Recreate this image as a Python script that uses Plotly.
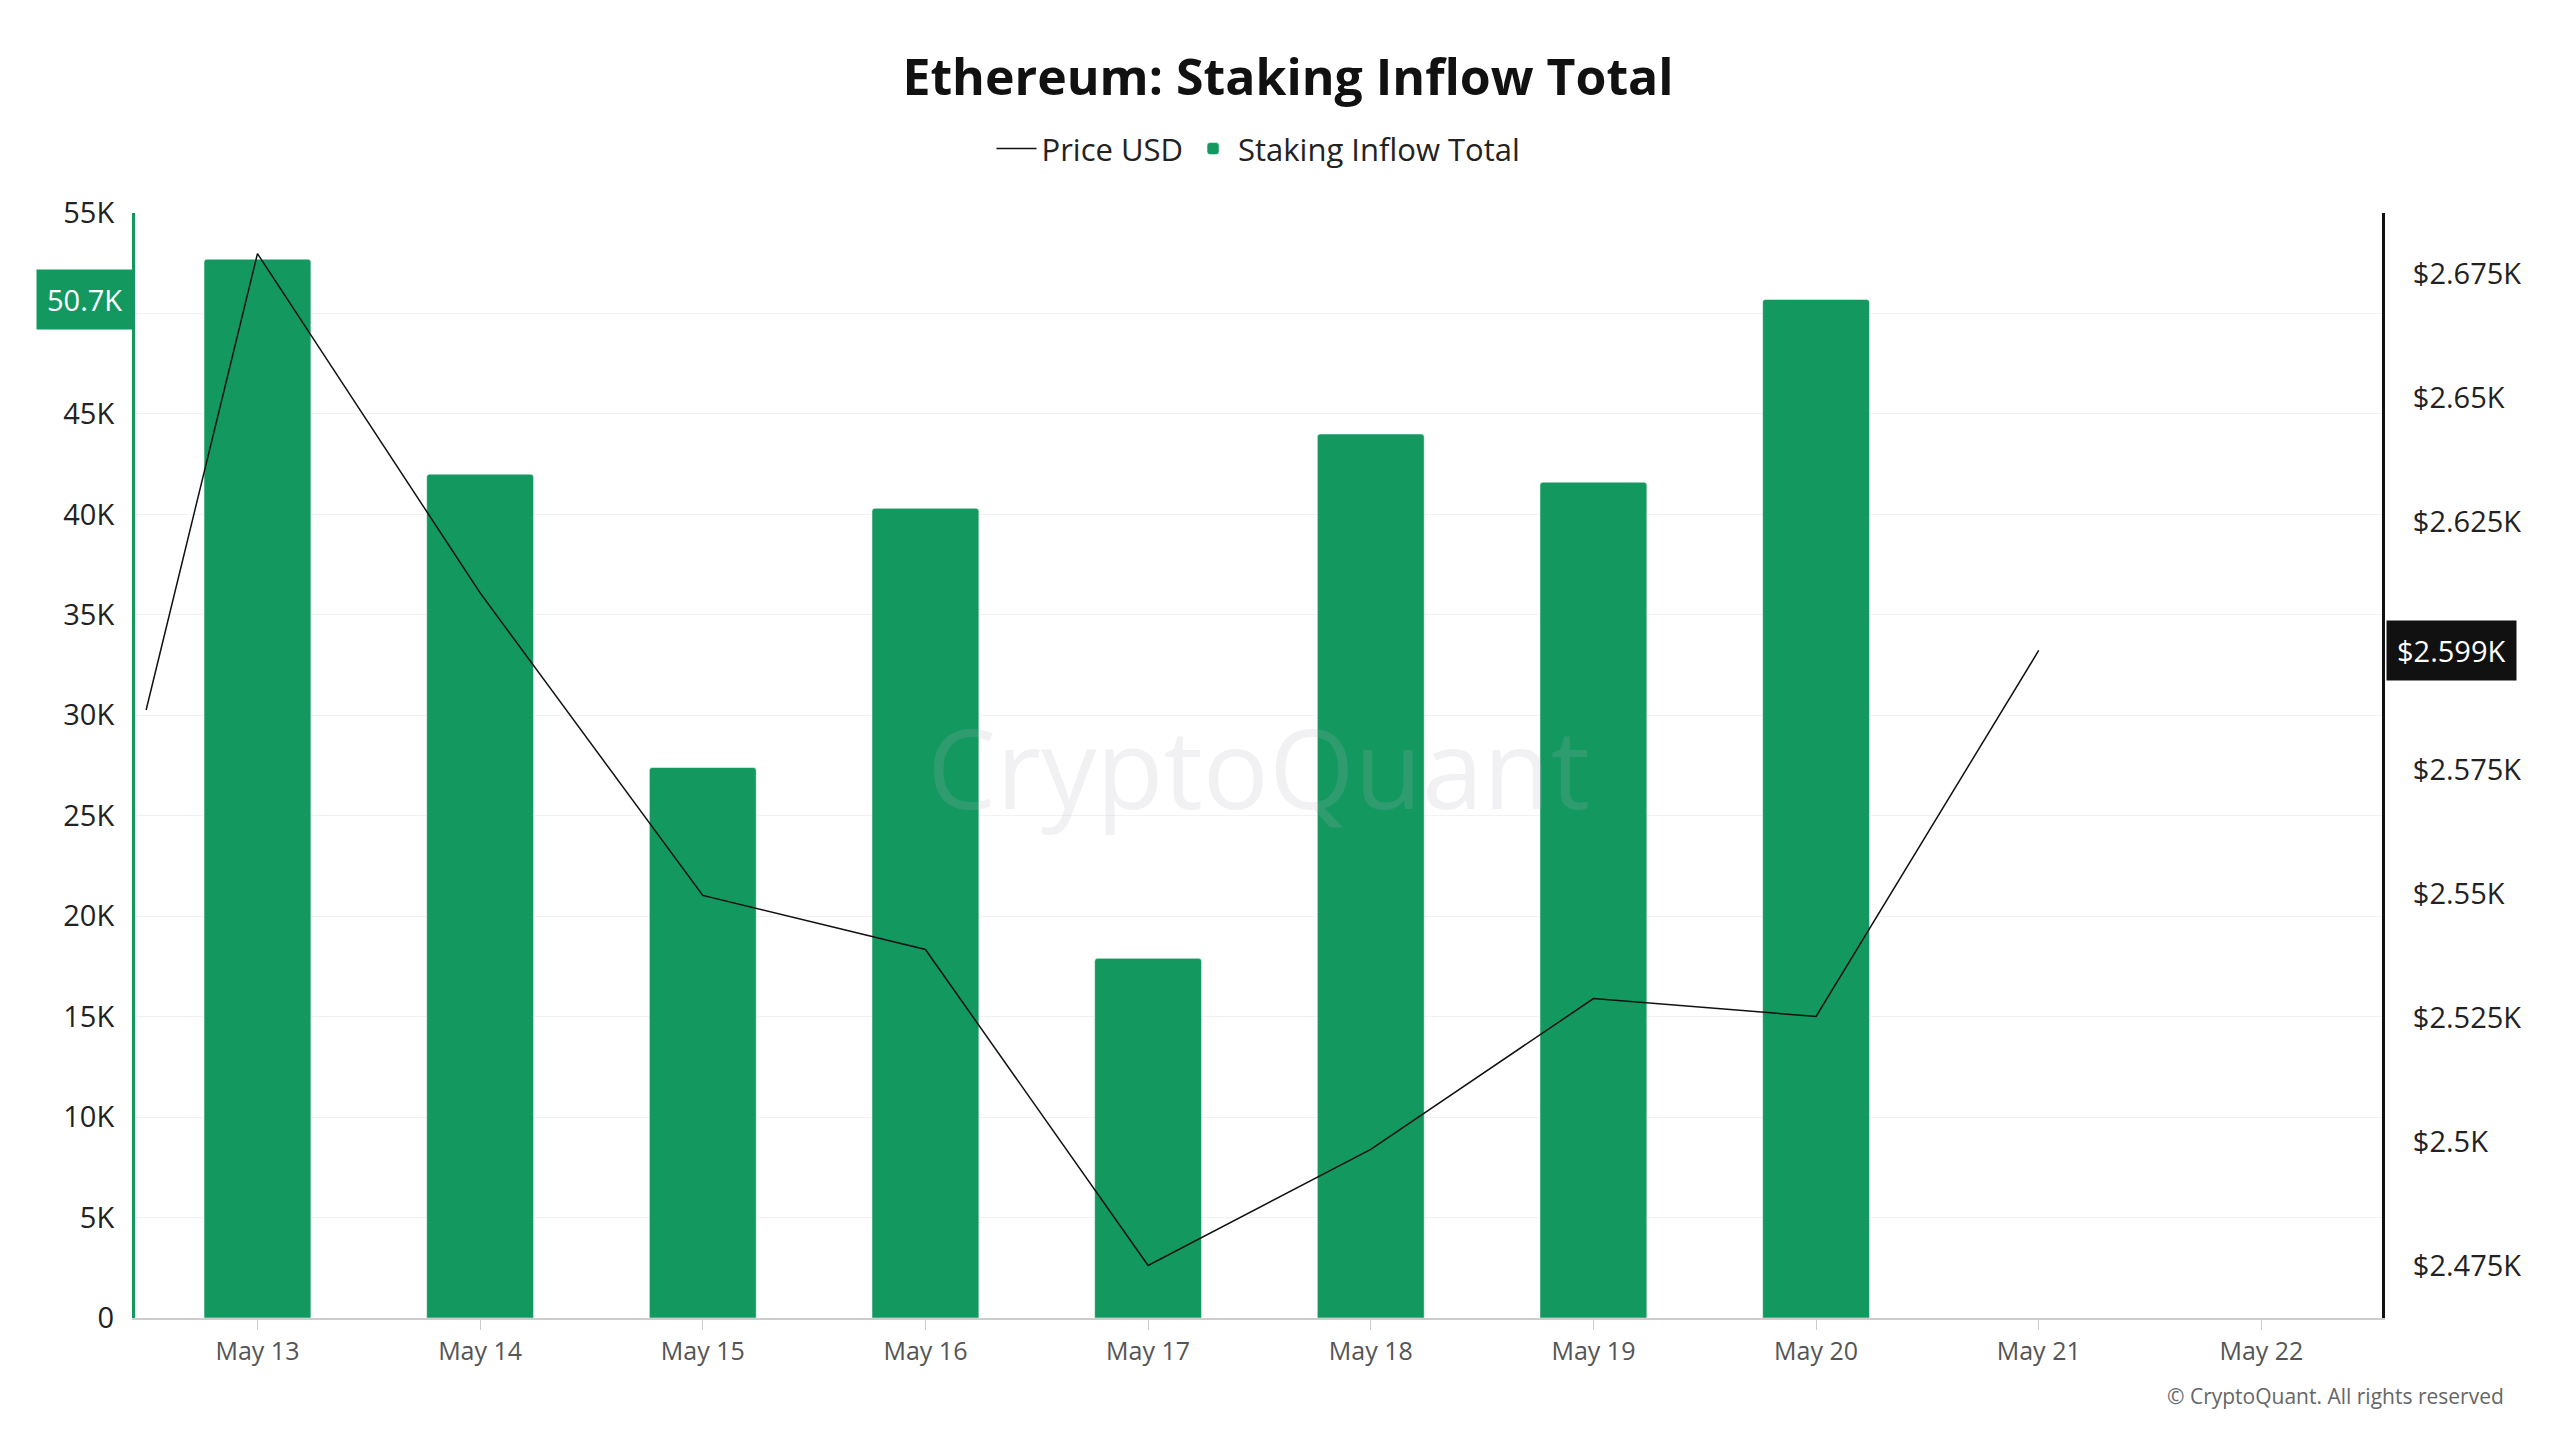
import plotly.graph_objects as go

bar_dates = ["2025-05-13", "2025-05-14", "2025-05-15", "2025-05-16",
             "2025-05-17", "2025-05-18", "2025-05-19", "2025-05-20"]
inflow = [52700, 42000, 27400, 40300, 17900, 44000, 41600, 50700]

price_dates = ["2025-05-12 12:00", "2025-05-13", "2025-05-14", "2025-05-15",
               "2025-05-16", "2025-05-17", "2025-05-18", "2025-05-19",
               "2025-05-20", "2025-05-21"]
price = [2587, 2679, 2610.6, 2549.6, 2538.7, 2475, 2498.4, 2528.8, 2525.2, 2599]

tick_vals = ["2025-05-%02d" % d for d in range(13, 23)]
tick_text = ["May %d" % d for d in range(13, 23)]

GREEN = "#13985f"
F = "Open Sans"

fig = go.Figure()
fig.add_trace(go.Bar(x=bar_dates, y=inflow, name="Staking Inflow Total",
                     marker=dict(color=GREEN, cornerradius=3), width=86400000 * 0.48))
fig.add_trace(go.Scatter(x=price_dates, y=price, name="Price USD", yaxis="y2",
                         mode="lines", line=dict(color="#111", width=1.5)))

fig.update_layout(
    width=2560, height=1440, template="plotly_white",
    font=dict(family=F, size=29, color="#222"),
    title=dict(text="<b>Ethereum: Staking Inflow Total</b>", x=0.5, y=0.952,
               xanchor="center", yanchor="middle", font=dict(size=50, color="#111")),
    legend=dict(orientation="h", x=0.5, xanchor="center", y=1.058, yanchor="middle",
                traceorder="reversed", font=dict(size=31), itemwidth=40),
    margin=dict(l=127, r=186, t=205, b=130),
    plot_bgcolor="white",
    bargap=0.5,
    xaxis=dict(range=["2025-05-12 10:48", "2025-05-22 13:00"], tickvals=tick_vals,
               ticktext=tick_text, showgrid=False, showline=True, linecolor="#ccc",
               linewidth=2, ticks="outside", ticklen=10, tickcolor="#ccc",
               tickfont=dict(size=25, color="#555")),
    yaxis=dict(range=[0, 55000], tickvals=[i * 5000 for i in range(12)],
               ticktext=["0"] + ["%dK" % (i * 5) for i in range(1, 10)] + ["", "55K"],
               showline=True, linecolor=GREEN, linewidth=3, gridcolor="#f2f2f2",
               zeroline=False, ticklabelstandoff=12),
    yaxis2=dict(range=[2464.4, 2687.2], overlaying="y", side="right",
                tickvals=[2475, 2500, 2525, 2550, 2575, 2600, 2625, 2650, 2675],
                ticktext=["$2.475K", "$2.5K", "$2.525K", "$2.55K", "$2.575K", "",
                          "$2.625K", "$2.65K", "$2.675K"],
                showline=True, linecolor="#111", linewidth=3, showgrid=False,
                ticklabelstandoff=22),
)

fig.add_annotation(text="50.7K", xref="paper", yref="y", x=0, y=50700, xanchor="right",
                   showarrow=False, bgcolor=GREEN, font=dict(color="white", size=29),
                   borderpad=10, xshift=-2)
fig.add_annotation(text="$2.599K", xref="paper", yref="y2", x=1, y=2599, xanchor="left",
                   showarrow=False, bgcolor="#111", font=dict(color="white", size=29),
                   borderpad=10, xshift=4)
fig.add_annotation(text="CryptoQuant", xref="paper", yref="paper", x=0.5, y=0.5,
                   showarrow=False, font=dict(size=110, color="rgba(180,180,195,0.18)"))
fig.add_annotation(text="© CryptoQuant. All rights reserved", xref="paper", yref="paper",
                   x=1.055, y=-0.085, xanchor="right", showarrow=False,
                   font=dict(size=21, color="#666"))

fig.write_html("out.html")
